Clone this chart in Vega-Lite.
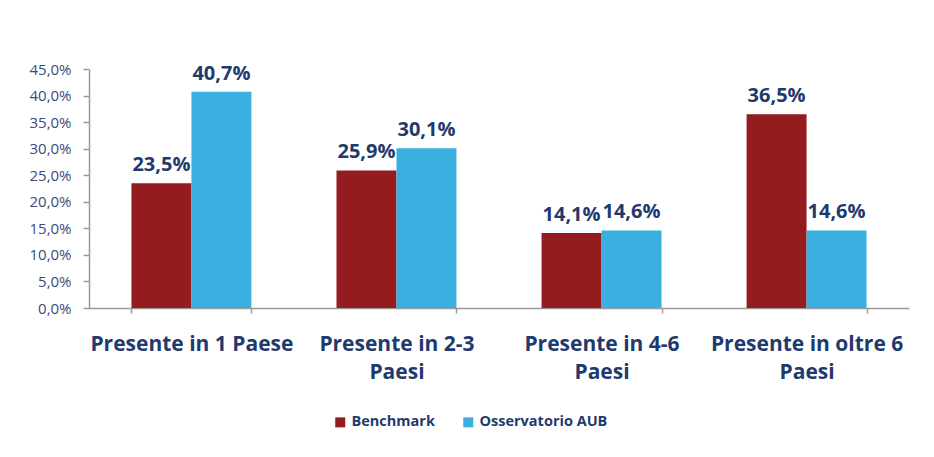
{
  "$schema": "https://vega.github.io/schema/vega-lite/v6.json",
  "autosize": "none",
  "width": 820,
  "height": 239,
  "padding": {"left": 89, "top": 69, "right": 25, "bottom": 149},
  "background": "white",
  "data": {
    "values": [
      {"categoria": "Presente in 1 Paese", "serie": "Benchmark", "valore": 23.5},
      {"categoria": "Presente in 1 Paese", "serie": "Osservatorio AUB", "valore": 40.7},
      {"categoria": "Presente in 2-3 Paesi", "serie": "Benchmark", "valore": 25.9},
      {"categoria": "Presente in 2-3 Paesi", "serie": "Osservatorio AUB", "valore": 30.1},
      {"categoria": "Presente in 4-6 Paesi", "serie": "Benchmark", "valore": 14.1},
      {"categoria": "Presente in 4-6 Paesi", "serie": "Osservatorio AUB", "valore": 14.6},
      {"categoria": "Presente in oltre 6 Paesi", "serie": "Benchmark", "valore": 36.5},
      {"categoria": "Presente in oltre 6 Paesi", "serie": "Osservatorio AUB", "valore": 14.6}
    ]
  },
  "transform": [
    {"calculate": "replace(format(datum.valore, '.1f'), '.', ',') + '%'", "as": "etichetta"}
  ],
  "encoding": {
    "x": {
      "field": "categoria",
      "type": "nominal",
      "sort": null,
      "title": null,
      "scale": {"paddingInner": 0.415, "paddingOuter": 0.207},
      "axis": {
        "labelAngle": 0,
        "domainColor": "#9a9a9a",
        "domainWidth": 1.5,
        "tickColor": "#9a9a9a",
        "tickWidth": 1.5,
        "tickSize": 5,
        "tickBand": "extent",
        "labelPadding": 20,
        "labelLimit": 0,
        "labelFont": "Open Sans",
        "labelFontWeight": "bold",
        "labelFontSize": 21,
        "labelColor": "#1F3A6E",
        "labelLineHeight": 28,
        "labelExpr": "indexof(datum.label, 'Paesi') < 0 ? datum.label : [replace(datum.label, ' Paesi', ''), 'Paesi']"
      }
    },
    "xOffset": {"field": "serie", "type": "nominal", "scale": {"paddingInner": 0, "paddingOuter": 0}},
    "y": {
      "field": "valore",
      "type": "quantitative",
      "title": null,
      "scale": {"domain": [0, 45]},
      "axis": {
        "values": [0, 5, 10, 15, 20, 25, 30, 35, 40, 45],
        "grid": false,
        "domainColor": "#9a9a9a",
        "domainWidth": 1.5,
        "tickColor": "#9a9a9a",
        "tickWidth": 1.5,
        "tickSize": 6,
        "labelPadding": 12,
        "labelFont": "Open Sans",
        "labelFontSize": 15,
        "labelColor": "#3A4A7C",
        "labelExpr": "replace(format(datum.value, '.1f'), '.', ',') + '%'"
      }
    }
  },
  "layer": [
    {
      "mark": {"type": "bar"},
      "encoding": {
        "color": {
          "field": "serie",
          "type": "nominal",
          "scale": {"domain": ["Benchmark", "Osservatorio AUB"], "range": ["#941B1E", "#3AAFE0"]},
          "legend": {
            "title": null,
            "orient": "none",
            "direction": "horizontal",
            "legendX": 244,
            "legendY": 346,
            "padding": 0,
            "symbolType": "square",
            "symbolSize": 100,
            "symbolStrokeWidth": 0,
            "labelOffset": 4,
            "columnPadding": 26,
            "labelFont": "Open Sans",
            "labelFontWeight": "bold",
            "labelFontSize": 14.5,
            "labelColor": "#1F3A6E"
          }
        }
      }
    },
    {
      "mark": {
        "type": "text",
        "baseline": "bottom",
        "dy": -8,
        "font": "Open Sans",
        "fontWeight": "bold",
        "fontSize": 20,
        "color": "#1F3A6E"
      },
      "encoding": {"text": {"field": "etichetta"}}
    }
  ],
  "config": {"view": {"stroke": null}}
}
